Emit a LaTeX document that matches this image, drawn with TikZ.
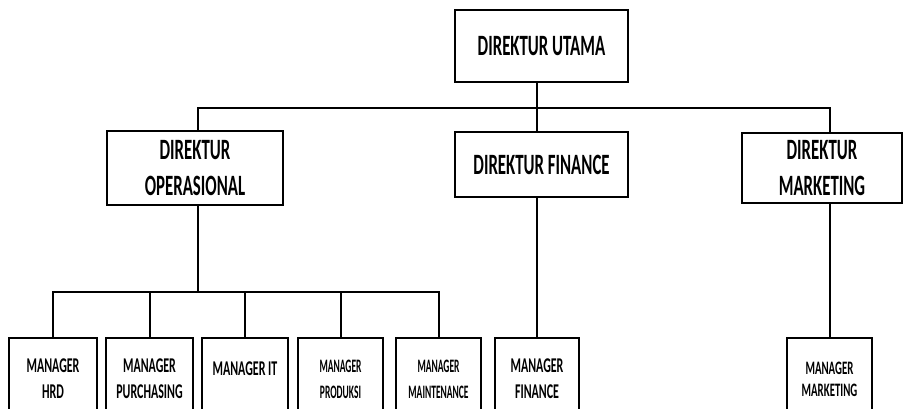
\documentclass[tikz,border=0pt]{standalone}
\usepackage{fontspec}
\setmainfont{Carlito}
\newfontfamily\orgfont[FakeStretch=0.57,UprightFont={* Bold}]{Carlito}
\newfontfamily\orgfontnarrow[FakeStretch=0.5,UprightFont={* Bold}]{Carlito}
\begin{document}
\begin{tikzpicture}[x=1pt,y=-1pt,
  line width=2pt,
  dirbox/.style={draw, rectangle, align=center, inner sep=0pt,
    font=\orgfont\fontsize{29.5}{36}\selectfont},
  mgrbox/.style={draw, rectangle, align=center, inner sep=0pt,
    minimum height=82pt, font=\orgfont\fontsize{21}{26}\selectfont},
  link/.style={draw, line width=2pt}]
\useasboundingbox (0,0) rectangle (905,408);

% directors
\node[dirbox, minimum width=173pt, minimum height=72pt] (utama) at (541.5,46) {DIREKTUR UTAMA};
\node[dirbox, minimum width=176pt, minimum height=74pt] (ops) at (195,168) {DIREKTUR\\OPERASIONAL};
\node[dirbox, minimum width=173pt, minimum height=65pt] (fin) at (541.5,164.5) {DIREKTUR FINANCE};
\node[dirbox, minimum width=160pt, minimum height=70pt] (mkt) at (822,168) {DIREKTUR\\MARKETING};

% managers
\node[mgrbox, minimum width=88pt] (hrd) at (53,379) {MANAGER\\HRD};
\node[mgrbox, minimum width=87pt] (pur) at (149.5,379) {MANAGER\\PURCHASING};
\node[mgrbox, minimum width=86pt, text depth=20pt] (it) at (245,379) {MANAGER IT};
\node[mgrbox, minimum width=85pt, font=\orgfontnarrow\fontsize{19}{26}\selectfont] (pro) at (340.5,379) {MANAGER\\PRODUKSI};
\node[mgrbox, minimum width=85pt, font=\orgfontnarrow\fontsize{19}{26}\selectfont] (mnt) at (438.5,379) {MANAGER\\MAINTENANCE};
\node[mgrbox, minimum width=84pt] (finmgr) at (537,379) {MANAGER\\FINANCE};
\node[mgrbox, minimum width=85pt, font=\orgfont\fontsize{19}{22}\selectfont] (mktmgr) at (829.5,379) {MANAGER\\MARKETING};

% bus lines
\coordinate (topbus) at (0,108);
\coordinate (lowbus) at (0,292);

% top level connectors
\draw[link] (utama.south -| finmgr) -- (fin.north -| finmgr);
\draw[link] ([xshift=3pt]ops.north) -- ([xshift=3pt]ops.north |- topbus)
  -- (mktmgr.north |- topbus) -- (mktmgr.north |- mkt.north);
\draw[link] (fin.south -| finmgr) -- (finmgr.north);
\draw[link] (mktmgr.north |- mkt.south) -- (mktmgr.north);

% operational managers
\draw[link] ([xshift=3pt]ops.south) -- ([xshift=3pt]ops.south |- lowbus);
\draw[link] (hrd.north) -- (hrd.north |- lowbus) -- (mnt.north |- lowbus) -- (mnt.north);
\draw[link] (pur.north) -- (pur.north |- lowbus);
\draw[link] (it.north) -- (it.north |- lowbus);
\draw[link] (pro.north) -- (pro.north |- lowbus);
\end{tikzpicture}
\end{document}
